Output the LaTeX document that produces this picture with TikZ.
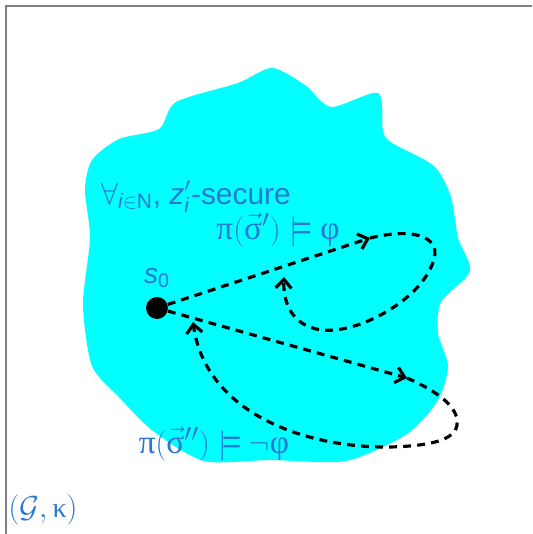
\documentclass[tikz,border=0pt]{standalone}
\usepackage{amsmath}
\usepackage{fontspec}
\setmainfont{Liberation Sans}
\newfontfamily\grk{Liberation Serif}
\usetikzlibrary{arrows.meta}
\definecolor{labelblue}{RGB}{40,120,210}
\definecolor{regioncyan}{RGB}{0,255,255}
\newcommand{\gk}[1]{\text{\grk #1}}
\begin{document}
\begin{tikzpicture}[x=0.02cm, y=-0.02cm, font=\fontsize{16}{19}\selectfont,
        state/.style={circle, fill=black, inner sep=0pt, minimum size=0.44cm},
        lbl/.style={text=labelblue, inner sep=0pt},
        formula/.style={lbl, font=\fontsize{19}{22}\selectfont},
        run/.style={line width=1.8pt, dash pattern=on 4.5pt off 3.5pt,
                    -{Straight Barb[length=5pt, width=9pt]}}]
      \useasboundingbox (0,0) rectangle (532,534);
      \clip (0,0) rectangle (532,534);
      \draw[gray, line width=1.1pt] (6,6) rectangle (560,560);
      % secure region
      \fill[regioncyan] plot[smooth cycle, tension=0.45] coordinates {
        (272,68) (238,83) (176,102) (159,129) (119,139) (92,160) (85,190)
        (90,238) (83,305) (92,366) (119,397) (153,431) (204,461) (271,460)
        (346,461) (407,434) (438,400) (448,366) (438,333) (441,302)
        (470,271) (458,238) (451,197) (434,166) (392,143) (383,131)
        (378,93) (331,107) (305,85)};
      \node[state] (s0) at (157,308) {};
      \node[lbl, anchor=base] (s0lbl) at (157,283) {$\textit{s}_{\text{0}}$};
      \node[lbl, anchor=base west, font=\fontsize{17}{20}\selectfont] (sec) at (101,204)
        {$\forall_{\textit{i}\in\mathrm{N}}$, \textit{z}$'_{\textit{i}}$-secure};
      \node[formula, anchor=base] (phi) at (278,239)
        {$\gk{π}(\vec{\gk{σ}}{}') \models \gk{φ}$};
      \node[formula, anchor=base] (nphi) at (214,453)
        {$\gk{π}(\vec{\gk{σ}}{}'') \models \neg\gk{φ}$};
      \node[lbl, anchor=base] (game) at (43,517) {$(\mathcal{G},\gk{κ})$};
      % runs
      \coordinate (t1) at (370,238);
      \coordinate (e1) at (284,277);
      \coordinate (t2) at (407,378);
      \coordinate (e2) at (193,322);
      \draw[run] (s0) -- (t1);
      \draw[run] (t1) .. controls (420,226) and (442,240) .. (433,262)
        .. controls (422,298) and (360,334) .. (322,330)
        .. controls (290,326) and (283,300) .. (e1);
      \draw[run] (s0) -- (t2);
      \draw[run] (t2) .. controls (430,388) and (460,405) .. (457,425)
        .. controls (455,440) and (430,446) .. (390,447)
        .. controls (300,448) and (205,410) .. (e2);
    \end{tikzpicture}
\end{document}
